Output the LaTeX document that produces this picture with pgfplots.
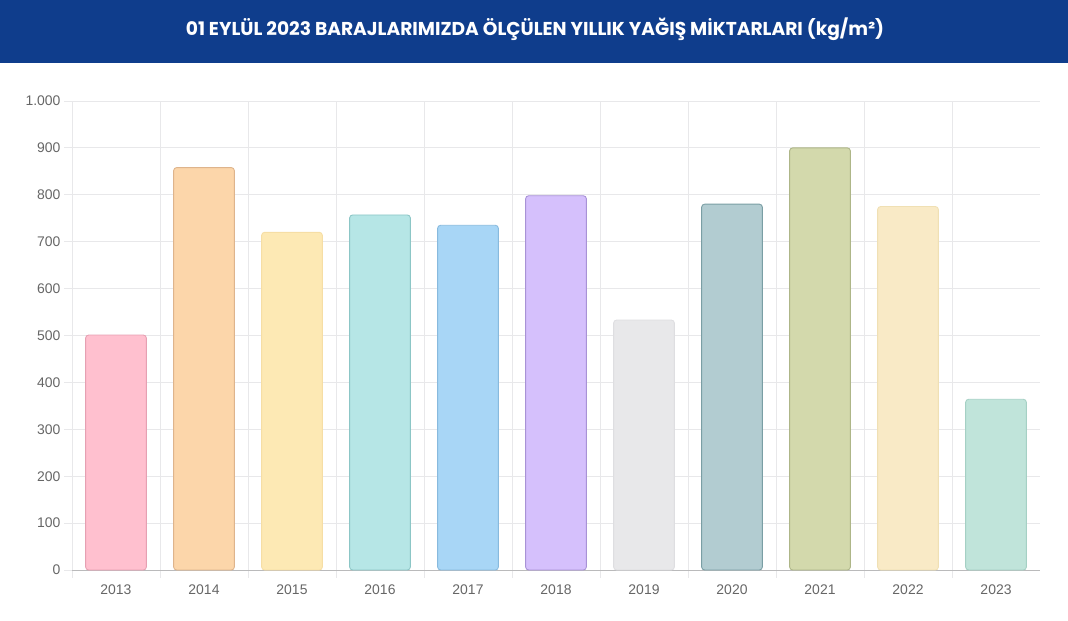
\documentclass[border=0pt]{standalone}
\usepackage{pgfplots}
\pgfplotsset{compat=1.18}
\usepackage{fontspec}
\setmainfont{Liberation Sans}
\newfontfamily\titlefont{Poppins}
\usetikzlibrary{calc}

\definecolor{band}{HTML}{0F3D8C}
\definecolor{gridc}{HTML}{E8E8EA}
\definecolor{tickc}{HTML}{666666}
% bar fills and outlines
\definecolor{f13}{RGB}{255,192,207} \definecolor{d13}{RGB}{230,160,178}
\definecolor{f14}{RGB}{252,214,170} \definecolor{d14}{RGB}{222,180,140}
\definecolor{f15}{RGB}{253,233,180} \definecolor{d15}{RGB}{246,222,165}
\definecolor{f16}{RGB}{182,230,230} \definecolor{d16}{RGB}{140,198,198}
\definecolor{f17}{RGB}{168,214,246} \definecolor{d17}{RGB}{136,186,222}
\definecolor{f18}{RGB}{213,192,252} \definecolor{d18}{RGB}{168,146,214}
\definecolor{f19}{RGB}{232,232,234} \definecolor{d19}{RGB}{222,222,225}
\definecolor{f20}{RGB}{178,204,209} \definecolor{d20}{RGB}{122,158,164}
\definecolor{f21}{RGB}{211,217,172} \definecolor{d21}{RGB}{174,182,136}
\definecolor{f22}{RGB}{249,234,198} \definecolor{d22}{RGB}{240,224,180}
\definecolor{f23}{RGB}{192,228,218} \definecolor{d23}{RGB}{165,208,196}

\begin{document}
\begin{tikzpicture}
\begin{axis}[
  name=ax,
  scale only axis,
  width=968bp, height=469bp,
  ybar, bar shift=0pt, bar width=0.69,
  xmin=-0.5, xmax=10.5,
  ymin=0, ymax=1000,
  xtick={0,...,10},
  xticklabels={2013,2014,2015,2016,2017,2018,2019,2020,2021,2022,2023},
  minor xtick={-0.5,0.5,...,9.5},
  ytick={0,100,...,1000},
  major x tick style={draw=none},
  minor tick length=8bp,
  major tick length=8bp,
  tick align=outside, tick pos=left,
  tick style={gridc, line width=0.8pt},
  xminorgrids=true, ymajorgrids=true,
  grid style={gridc, line width=0.8pt},
  axis x line*=bottom, axis y line*=left,
  x axis line style={draw=gridc!80!black, line width=0.8pt},
  y axis line style={draw=gridc, line width=0.8pt},
  /pgf/number format/assume math mode=true,
  /pgf/number format/1000 sep={.},
  ticklabel style={font=\fontsize{14}{16}\selectfont, text=tickc},
  xticklabel style={yshift=-3bp},
  every axis plot/.append style={line width=0.9pt, rounded corners=3bp},
]
\addplot[fill=f13, draw=d13] coordinates {(0,501)};
\addplot[fill=f14, draw=d14] coordinates {(1,858)};
\addplot[fill=f15, draw=d15] coordinates {(2,720)};
\addplot[fill=f16, draw=d16] coordinates {(3,757)};
\addplot[fill=f17, draw=d17] coordinates {(4,735)};
\addplot[fill=f18, draw=d18] coordinates {(5,798)};
\addplot[fill=f19, draw=d19] coordinates {(6,533)};
\addplot[fill=f20, draw=d20] coordinates {(7,780)};
\addplot[fill=f21, draw=d21] coordinates {(8,900)};
\addplot[fill=f22, draw=d22] coordinates {(9,775)};
\addplot[fill=f23, draw=d23] coordinates {(10,364)};
\end{axis}
% page extent and header band
\path ($(ax.south west)+(-72bp,-51bp)$) rectangle ($(ax.north east)+(28bp,101bp)$);
\fill[band] ($(ax.north west)+(-72bp,38bp)$) rectangle ($(ax.north east)+(28bp,101bp)$);
\node[text=white, font=\titlefont\bfseries\fontsize{18.7}{22}\selectfont, anchor=center]
  at ($(ax.north)+(-21bp,72bp)$) {01 EYLÜL 2023 BARAJLARIMIZDA ÖLÇÜLEN YILLIK YAĞIŞ MİKTARLARI (kg/m²)};
\end{tikzpicture}
\end{document}
